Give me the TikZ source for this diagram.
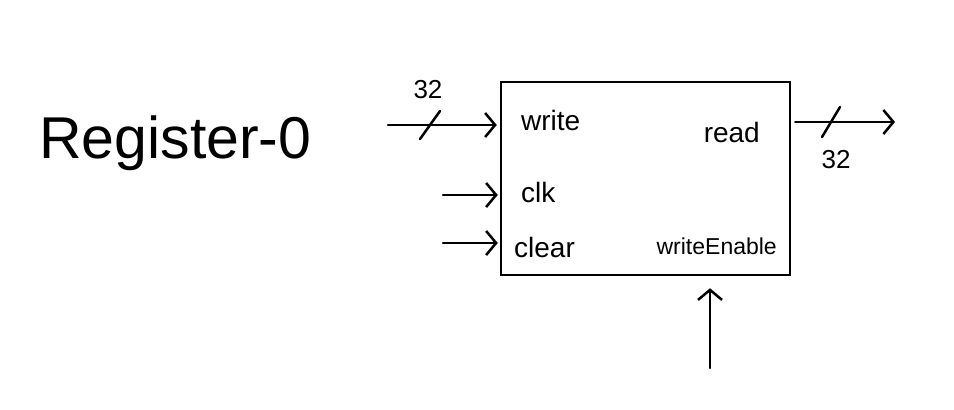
\documentclass[tikz,border=0pt]{standalone}
\usepackage{fontspec}
\setmainfont{Liberation Sans}
\usetikzlibrary{arrows.meta,positioning,calc}
\tikzset{
  block/.style={draw, line width=2.5pt, minimum width=289pt, minimum height=193pt, inner sep=0pt},
  port/.style={font=\fontsize{28}{28}\selectfont, inner sep=0pt},
  buslabel/.style={font=\fontsize{26}{26}\selectfont, inner sep=0pt},
  wire/.style={line width=2.5pt, line cap=round, -{Straight Barb[length=10pt,width=24pt]}},
  busmark/.style={line width=2.5pt, line cap=round},
}
\begin{document}
\begin{tikzpicture}[x=1pt, y=-1pt]
\useasboundingbox (0,0) rectangle (954,410);
\node[font=\fontsize{59}{59}\selectfont, anchor=west, inner sep=0pt] (title) at (39,143) {Register-0};

% the register block and its ports
\node[block] (reg) at (645.5,178.5) {};
\node[port, anchor=west] (lwrite) at (521,120) {write};
\node[port, anchor=west] (lclk) at (521,192) {clk};
\node[port, anchor=west] (lclear) at (514,247) {clear};
\node[port, anchor=east] (lread) at (760,132) {read};
\node[port, anchor=east, font=\fontsize{23}{23}\selectfont] (lwe) at (777,246) {writeEnable};

\coordinate (writein) at (388,125);
\coordinate (clkin) at (443,195);
\coordinate (clearin) at (443,243);
\coordinate (readout) at (895,122);
\coordinate (wein) at (710,368);

\draw[wire, shorten >=3pt] (writein) -- (reg.west |- writein);
\draw[wire, shorten >=2pt] (clkin) -- (reg.west |- clkin);
\draw[wire, shorten >=2pt] (clearin) -- (reg.west |- clearin);
\draw[wire, shorten <=4pt] (reg.east |- readout) -- (readout);
\draw[wire, shorten >=12pt] (wein) -- (wein |- reg.south);

% bus width marks
\coordinate (wslash) at (430,125);
\coordinate (rslash) at (831,122);
\draw[busmark] (wslash) ++(-10,14) -- ++(20,-28);
\draw[busmark] (rslash) ++(-9,15) -- ++(18,-30);
\node[buslabel] (wwidth) at (428,90) {32};
\node[buslabel] (rwidth) at (836,160) {32};
\end{tikzpicture}
\end{document}
